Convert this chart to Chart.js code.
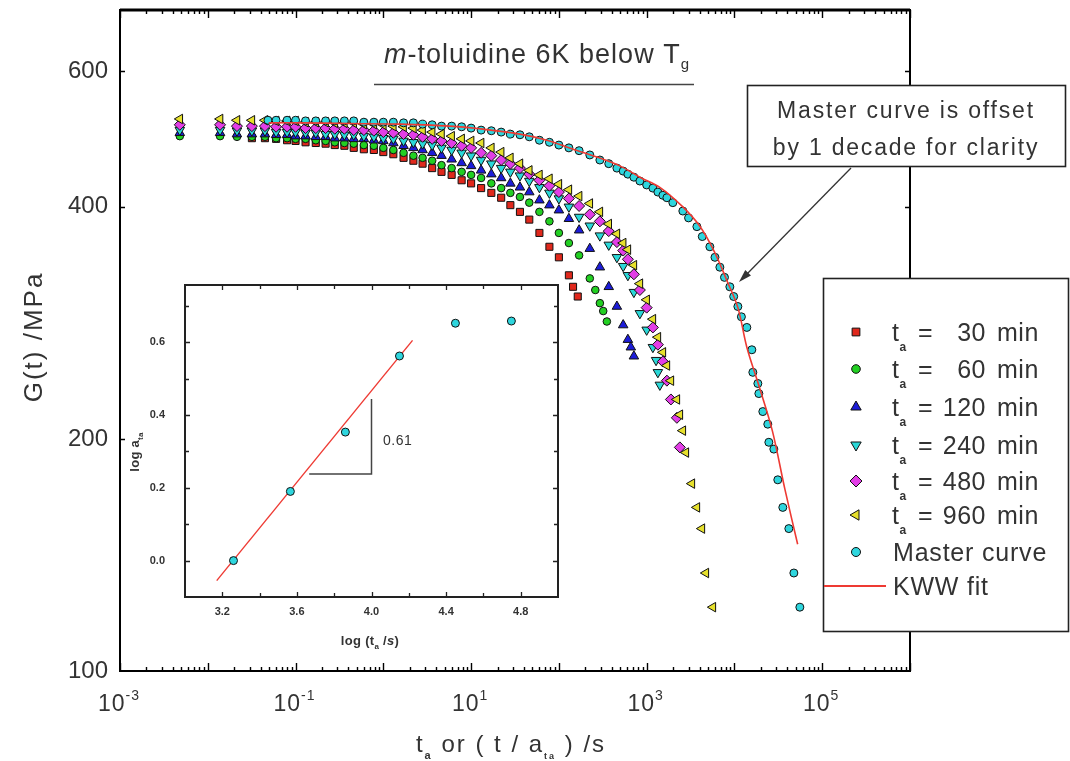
<!DOCTYPE html>
<html>
<head>
<meta charset="utf-8">
<title>m-toluidine stress relaxation</title>
<script src="https://cdn.jsdelivr.net/npm/chart.js@4.4.1/dist/chart.umd.min.js"></script>
<style>
  html, body { margin: 0; padding: 0; background: #fff; }
  #wrap { position: relative; width: 1070px; height: 761px; overflow: hidden; }
  #main { position: absolute; left: 0; top: 0; }
  #inset { position: absolute; left: 120px; top: 270px; }
</style>
</head>
<body>
<div id="wrap">
  <canvas id="main" width="1070" height="761"></canvas>
  <canvas id="inset" width="460" height="400"></canvas>
</div>
<script>
// G(t) in MPa vs time in s
const tEarly = [0.0048, 0.0138, 0.0215, 0.0318, 0.0448, 0.06, 0.08, 0.1, 0.13, 0.17,
  0.22, 0.28, 0.36, 0.46, 0.6, 0.78, 1.0, 1.3, 1.7, 2.2, 2.8, 3.6, 4.6, 6.0, 7.8,
  10, 13, 17, 22, 28, 36, 46, 60, 78, 100];

const t30 = [...tEarly.slice(3), 130, 145, 164];
const g30 = [491, 491, 490, 488, 487, 485, 484, 483, 481, 480, 477, 475, 474, 471, 468,
  463, 459, 455, 449, 444, 440, 433, 429, 423, 417, 411, 402, 394, 385, 370, 355, 344,
  326, 315, 306];

const t60 = [...tEarly, 130, 170, 225, 260, 293, 320, 352];
const g60 = [494, 494, 493, 493, 493, 491, 491, 490, 490, 488, 487, 485, 484, 483, 481,
  480, 477, 474, 470, 466, 463, 459, 453, 449, 444, 440, 436, 429, 423, 417, 412, 405,
  394, 383, 370, 359, 346, 323, 312, 300, 293, 284];

const t120 = [...tEarly, 130, 170, 225, 293, 370, 458, 540, 611, 660, 715];
const g120 = [499, 499, 497, 497, 497, 496, 496, 494, 494, 493, 493, 491, 491, 490, 490,
  488, 487, 484, 480, 477, 474, 470, 466, 461, 456, 452, 446, 441, 436, 429, 424, 418,
  408, 402, 396, 386, 373, 353, 334, 315, 297, 281, 269, 263, 256];

const t240 = [...tEarly, 130, 170, 225, 293, 370, 458, 540, 611, 715, 837, 1000, 1177,
  1280, 1342, 1413];
const g240 = [503, 503, 502, 502, 502, 500, 500, 500, 499, 499, 497, 497, 496, 496, 494,
  493, 491, 490, 487, 485, 483, 481, 477, 474, 470, 466, 460, 455, 449, 444, 439, 432,
  424, 417, 410, 400, 388, 378, 367, 357, 344, 335, 326, 310, 291, 277, 263, 253, 244, 235];

const t480 = [...tEarly, 130, 170, 225, 293, 370, 458, 540, 611, 715, 837, 1000, 1177,
  1342, 1530, 1700, 1888, 2208, 2388];
const g480 = [511, 511, 509, 509, 509, 508, 508, 508, 506, 506, 506, 505, 505, 503, 503,
  502, 500, 499, 497, 496, 493, 490, 487, 484, 480, 477, 470, 466, 460, 455, 449, 441,
  433, 426, 418, 410, 401, 391, 383, 372, 360, 351, 342, 327, 312, 296, 279, 265, 252,
  238, 225, 213, 195];

const t960 = [...tEarly, 130, 170, 225, 293, 370, 458, 540, 611, 715, 837, 1000, 1177,
  1342, 1530, 1700, 1888, 2208, 2388, 2583, 2795, 3273, 3733, 4256, 4723, 5678];
const g960 = [520, 520, 518, 518, 518, 517, 517, 517, 515, 515, 515, 514, 514, 514, 512,
  512, 511, 509, 508, 506, 503, 500, 497, 494, 490, 487, 484, 477, 471, 463, 455, 446,
  440, 435, 428, 421, 413, 404, 394, 380, 369, 359, 352, 336, 318, 303, 286, 271, 259,
  249, 238, 225, 215, 205, 192, 175, 163, 153, 134, 121];

// master curve (shifted one decade) and KWW fit
const tMaster = [0.0485, 0.06, 0.08, 0.1, 0.13, 0.17, 0.22, 0.28, 0.36, 0.46, 0.6, 0.78,
  1.0, 1.3, 1.7, 2.2, 2.8, 3.6, 4.6, 6.0, 7.8, 10, 13, 17, 22, 28, 36, 46, 60, 78, 100,
  130, 170, 225, 293, 370, 458, 540, 611, 715, 837, 1000, 1177, 1342, 1530, 1700, 1987,
  2583, 3000, 3733, 4300, 5248, 6000, 6823, 7700, 8866, 9800, 10940, 12000, 13840, 15780,
  16200, 18480, 18970, 21050, 23990, 24660, 28100, 31190, 35560, 41650, 47530, 55600];
const gMaster = [518, 518, 518, 518, 517, 517, 517, 517, 517, 517, 515, 515, 515, 515,
  514, 514, 512, 511, 509, 509, 508, 506, 503, 502, 500, 497, 496, 493, 488, 485, 481,
  477, 473, 467, 460, 455, 449, 445, 441, 437, 432, 427, 423, 418, 414, 411, 405, 395,
  387, 377, 366, 355, 344, 334, 324, 315, 306, 297, 288, 279, 261, 244, 236, 229, 217,
  209, 198, 194, 177, 163, 153, 134, 121];

const tKWW = [0.0495, 0.112, 0.41, 1.545, 5.74, 12.6, 36, 73, 130, 271, 495, 837, 1413,
  2583, 4000, 5900, 8193, 10940, 13840, 19100, 27000, 37600, 52500];
const gKWW = [514, 514, 513, 512, 509, 505, 497, 488, 477, 464, 452, 437, 424, 400, 378,
  350, 321, 296, 263, 234, 205, 172, 146];

const agingMinutes = [30, 60, 120, 240, 480, 960];
const yTickVals = [100, 200, 400, 600];
const xLabelExps = [-3, -1, 1, 3, 5];

// inset: shift factor vs aging time
const insetLogTa = [3.26, 3.565, 3.86, 4.15, 4.45, 4.75];
const insetLogA = [0.0, 0.19, 0.353, 0.562, 0.652, 0.658];
const fitLogTa = [3.17, 4.22];
const fitLogA = [-0.055, 0.605];
const slopeX = [3.666, 4.0, 4.0];
const slopeY = [0.238, 0.238, 0.444];
const insetXTicks = [3.2, 3.6, 4.0, 4.4, 4.8];
const insetYTicks = [0.0, 0.2, 0.4, 0.6];

const FONT = '"Liberation Sans", Arial, sans-serif';
const INK = '#333';
Chart.defaults.font.family = FONT;

const pts = (xs, ys) => xs.map((x, i) => ({ x, y: ys[i] }));

function drawRich(ctx, parts, x, y, align, spacing) {
  ctx.save();
  ctx.textAlign = 'left';
  ctx.textBaseline = 'alphabetic';
  ctx.letterSpacing = spacing || '0px';
  let w = 0;
  parts.forEach(p => { ctx.font = p.f; w += ctx.measureText(p.t).width; });
  let cx = align === 'center' ? x - w / 2 : (align === 'right' ? x - w : x);
  parts.forEach(p => {
    ctx.font = p.f;
    ctx.fillText(p.t, cx, y + (p.dy || 0));
    cx += ctx.measureText(p.t).width;
  });
  ctx.restore();
  return w;
}

const markerStyles = [
  { bg: '#e0281c', style: 'rect', r: 5, rot: 0 },
  { bg: '#22d022', style: 'circle', r: 3.8, rot: 0 },
  { bg: '#1c1cd8', style: 'triangle', r: 5.5, rot: 0 },
  { bg: '#2ad8d8', style: 'triangle', r: 5.5, rot: 180 },
  { bg: '#e23ee6', style: 'rectRot', r: 5.5, rot: 0 },
  { bg: '#e6e02c', style: 'triangle', r: 5.5, rot: 270 }
];
const masterStyle = { bg: '#2ed6de', style: 'circle', r: 4, rot: 0 };
const kwwColor = '#ee3a33';

const agingX = [t30, t60, t120, t240, t480, t960];
const agingY = [g30, g60, g120, g240, g480, g960];

const scatterSet = (label, data, s) => ({
  label, data,
  pointStyle: s.style, pointRadius: s.r, pointRotation: s.rot,
  backgroundColor: s.bg, borderColor: '#111', borderWidth: 1
});

const agingSets = agingMinutes.map((m, i) =>
  scatterSet('ta = ' + m + ' min', pts(agingX[i], agingY[i]), markerStyles[i]));

const datasets = [
  { label: 'KWW fit', data: pts(tKWW, gKWW), showLine: true, pointRadius: 0,
    borderColor: kwwColor, borderWidth: 1.6, tension: 0.35 },
  scatterSet('Master curve', pts(tMaster, gMaster), masterStyle),
  ...agingSets.slice().reverse()
];

const legendRows = [332, 369, 407, 445, 481, 515, 552, 586];

const decor = {
  id: 'decor',
  afterDraw(chart) {
    const { ctx, chartArea: a, scales: { x, y } } = chart;
    ctx.save();
    ctx.strokeStyle = '#000';
    ctx.fillStyle = INK;

    // inward tick marks on all four sides
    ctx.lineWidth = 1.4;
    ctx.beginPath();
    for (let k = -3; k <= 6; k++) {
      for (let m = 1; m <= 9; m++) {
        const v = m * Math.pow(10, k);
        if (v > 1.0001e6) break;
        const px = Math.round(x.getPixelForValue(v)) + 0.5;
        const len = m === 1 ? 8 : 4;
        ctx.moveTo(px, a.bottom); ctx.lineTo(px, a.bottom - len);
        ctx.moveTo(px, a.top); ctx.lineTo(px, a.top + len);
      }
    }
    yTickVals.slice(1).forEach(v => {
      const py = Math.round(y.getPixelForValue(v)) + 0.5;
      ctx.moveTo(a.left, py); ctx.lineTo(a.left + 5, py);
      ctx.moveTo(a.right, py); ctx.lineTo(a.right - 5, py);
    });
    ctx.stroke();

    ctx.lineWidth = 2;
    ctx.strokeRect(a.left, a.top, a.right - a.left, a.bottom - a.top);
    ctx.lineWidth = 3;
    ctx.beginPath(); ctx.moveTo(a.left, a.top); ctx.lineTo(a.right, a.top); ctx.stroke();

    // x tick labels as powers of ten
    xLabelExps.forEach(e => {
      const px = x.getPixelForValue(Math.pow(10, e));
      drawRich(ctx, [{ t: '10', f: '23px ' + FONT }, { t: String(e), f: '14px ' + FONT, dy: -11 }],
        px - 1, 711, 'center', '1px');
    });

    // axis titles
    ctx.save();
    ctx.translate(33, 337);
    ctx.rotate(-Math.PI / 2);
    drawRich(ctx, [{ t: 'G(t) /MPa', f: '26px ' + FONT }], 0, 9, 'center', '2px');
    ctx.restore();
    drawRich(ctx, [
      { t: 't', f: '24px ' + FONT }, { t: 'a', f: 'bold 11px ' + FONT, dy: 7 },
      { t: ' or ( t / a', f: '24px ' + FONT }, { t: 'ta', f: 'bold 9px ' + FONT, dy: 7 },
      { t: ' ) /s', f: '24px ' + FONT }
    ], 511, 752, 'center', '2px');

    // title with underline
    drawRich(ctx, [
      { t: 'm', f: 'italic 27px ' + FONT }, { t: '-toluidine 6K below T', f: '27px ' + FONT },
      { t: 'g', f: '15px ' + FONT, dy: 6 }
    ], 384, 63, 'left', '1px');
    ctx.strokeStyle = '#444';
    ctx.lineWidth = 1.5;
    ctx.beginPath(); ctx.moveTo(374, 84.5); ctx.lineTo(694, 84.5); ctx.stroke();

    // annotation box and arrow
    ctx.fillStyle = '#fff';
    ctx.fillRect(747, 85, 319, 82);
    ctx.strokeStyle = '#222';
    ctx.lineWidth = 1.6;
    ctx.strokeRect(747.5, 85.5, 318, 81);
    ctx.fillStyle = INK;
    drawRich(ctx, [{ t: 'Master curve is offset', f: '23px ' + FONT }], 906, 118, 'center', '1.8px');
    drawRich(ctx, [{ t: 'by 1 decade for clarity', f: '23px ' + FONT }], 906, 155, 'center', '1.8px');
    const ax0 = 851, ay0 = 168, ax1 = 739, ay1 = 282;
    ctx.strokeStyle = '#333';
    ctx.lineWidth = 1.3;
    ctx.beginPath(); ctx.moveTo(ax0, ay0); ctx.lineTo(ax1 + 6, ay1 - 6); ctx.stroke();
    const ang = Math.atan2(ay1 - ay0, ax1 - ax0);
    ctx.fillStyle = '#333';
    ctx.beginPath();
    ctx.moveTo(ax1, ay1);
    ctx.lineTo(ax1 - 13 * Math.cos(ang) + 4 * Math.sin(ang), ay1 - 13 * Math.sin(ang) - 4 * Math.cos(ang));
    ctx.lineTo(ax1 - 13 * Math.cos(ang) - 4 * Math.sin(ang), ay1 - 13 * Math.sin(ang) + 4 * Math.cos(ang));
    ctx.closePath(); ctx.fill();

    // legend
    ctx.fillStyle = '#fff';
    ctx.fillRect(823, 278, 246, 354);
    ctx.strokeStyle = '#222';
    ctx.lineWidth = 1.6;
    ctx.strokeRect(823.5, 278.5, 245, 353);
    const f25 = '25px ' + FONT;
    agingMinutes.forEach((m, i) => {
      const s = markerStyles[i], yy = legendRows[i];
      ctx.fillStyle = s.bg; ctx.strokeStyle = '#111'; ctx.lineWidth = 1;
      Chart.helpers.drawPoint(ctx, { pointStyle: s.style, rotation: s.rot, radius: s.r + 0.5, borderWidth: 1 }, 856, yy);
      ctx.fillStyle = INK;
      drawRich(ctx, [{ t: 't', f: f25 }, { t: 'a', f: 'bold 12px ' + FONT, dy: 10 }], 892, yy + 9, 'left', '0.5px');
      drawRich(ctx, [{ t: '=', f: f25 }], 918, yy + 9, 'left', '0.5px');
      drawRich(ctx, [{ t: String(m), f: f25 }], 986, yy + 9, 'right', '0.5px');
      drawRich(ctx, [{ t: 'min', f: f25 }], 997, yy + 9, 'left', '0.5px');
    });
    ctx.fillStyle = masterStyle.bg; ctx.strokeStyle = '#111'; ctx.lineWidth = 1;
    Chart.helpers.drawPoint(ctx, { pointStyle: 'circle', radius: 4.5, borderWidth: 1 }, 856, legendRows[6]);
    ctx.fillStyle = INK;
    drawRich(ctx, [{ t: 'Master curve', f: f25 }], 893, legendRows[6] + 9, 'left', '0.8px');
    ctx.strokeStyle = kwwColor; ctx.lineWidth = 1.8;
    ctx.beginPath(); ctx.moveTo(824, legendRows[7]); ctx.lineTo(886, legendRows[7]); ctx.stroke();
    drawRich(ctx, [{ t: 'KWW fit', f: f25 }], 893, legendRows[7] + 9, 'left', '0.8px');

    ctx.restore();
  }
};

new Chart(document.getElementById('main'), {
  type: 'scatter',
  data: { datasets },
  options: {
    responsive: false,
    animation: false,
    layout: { padding: { left: 18, right: 160, top: 10, bottom: 0 } },
    plugins: { legend: { display: false }, tooltip: { enabled: false } },
    scales: {
      x: {
        type: 'logarithmic', min: 1e-3, max: 1e6,
        grid: { display: false, drawTicks: false }, border: { display: false },
        ticks: { display: false },
        afterFit: s => { s.height = 90; s.paddingLeft = 0; s.paddingRight = 0; }
      },
      y: {
        type: 'logarithmic', min: 100, max: 720,
        grid: { display: false, drawTicks: false }, border: { display: false },
        afterBuildTicks: s => { s.ticks = yTickVals.map(v => ({ value: v })); },
        ticks: { font: { size: 24 }, color: INK, padding: 12, callback: v => String(v) },
        afterFit: s => { s.width = 102; s.paddingTop = 0; s.paddingBottom = 0; }
      }
    }
  },
  plugins: [decor]
});

// inset chart
const insetDecor = {
  id: 'insetDecor',
  afterDraw(chart) {
    const { ctx, chartArea: a, scales: { x, y } } = chart;
    ctx.save();
    ctx.strokeStyle = '#222';
    ctx.lineWidth = 1.3;
    ctx.beginPath();
    for (let i = 0; i <= 8; i++) {
      const v = 3.2 + i * 0.2;
      const px = Math.round(x.getPixelForValue(v)) + 0.5;
      const len = i % 2 === 0 ? 5 : 4;
      ctx.moveTo(px, a.bottom); ctx.lineTo(px, a.bottom - len);
      ctx.moveTo(px, a.top); ctx.lineTo(px, a.top + len);
    }
    for (let i = 0; i <= 7; i++) {
      const v = i * 0.1;
      const py = Math.round(y.getPixelForValue(v)) + 0.5;
      const len = i % 2 === 0 ? 5 : 4;
      ctx.moveTo(a.left, py); ctx.lineTo(a.left + len, py);
      ctx.moveTo(a.right, py); ctx.lineTo(a.right - len, py);
    }
    ctx.stroke();
    ctx.lineWidth = 2;
    ctx.strokeRect(a.left, a.top, a.right - a.left, a.bottom - a.top);

    ctx.fillStyle = INK;
    drawRich(ctx, [{ t: '0.61', f: '14px ' + FONT }], x.getPixelForValue(4.14), y.getPixelForValue(0.33) + 5, 'center', '0.5px');
    drawRich(ctx, [
      { t: 'log (t', f: 'bold 13px ' + FONT }, { t: 'a', f: 'bold 8px ' + FONT, dy: 4 },
      { t: ' /', f: 'bold 13px ' + FONT }, { t: 's', f: 'italic bold 13px ' + FONT },
      { t: ')', f: 'bold 13px ' + FONT }
    ], 250, 375, 'center', '0.3px');
    ctx.save();
    ctx.translate(14, 182);
    ctx.rotate(-Math.PI / 2);
    drawRich(ctx, [{ t: 'log a', f: 'bold 13px ' + FONT }, { t: 'ta', f: 'bold 8px ' + FONT, dy: 4 }], 0, 5, 'center', '0.3px');
    ctx.restore();
    ctx.restore();
  }
};

new Chart(document.getElementById('inset'), {
  type: 'scatter',
  data: {
    datasets: [
      { data: pts(insetLogTa, insetLogA), pointStyle: 'circle', pointRadius: 4,
        backgroundColor: '#2ed6de', borderColor: '#111', borderWidth: 1 },
      { data: pts(fitLogTa, fitLogA), showLine: true, pointRadius: 0,
        borderColor: kwwColor, borderWidth: 1.4 },
      { data: pts(slopeX, slopeY), showLine: true, pointRadius: 0,
        borderColor: '#444', borderWidth: 1.5 }
    ]
  },
  options: {
    responsive: false,
    animation: false,
    layout: { padding: { left: 0, right: 22, top: 15, bottom: 0 } },
    plugins: { legend: { display: false }, tooltip: { enabled: false } },
    scales: {
      x: {
        type: 'linear', min: 3.0, max: 5.0,
        grid: { display: false, drawTicks: false }, border: { display: false },
        afterBuildTicks: s => { s.ticks = insetXTicks.map(v => ({ value: v })); },
        ticks: { font: { size: 11, weight: 'bold' }, color: INK, padding: 8, callback: v => v.toFixed(1) },
        afterFit: s => { s.height = 73; s.paddingLeft = 0; s.paddingRight = 0; }
      },
      y: {
        type: 'linear', min: -0.1, max: 0.757,
        grid: { display: false, drawTicks: false }, border: { display: false },
        afterBuildTicks: s => { s.ticks = insetYTicks.map(v => ({ value: v })); },
        ticks: { font: { size: 11, weight: 'bold' }, color: INK, padding: 20, callback: v => v.toFixed(1) },
        afterFit: s => { s.width = 65; s.paddingTop = 0; s.paddingBottom = 0; }
      }
    }
  },
  plugins: [insetDecor]
});
</script>
</body>
</html>
